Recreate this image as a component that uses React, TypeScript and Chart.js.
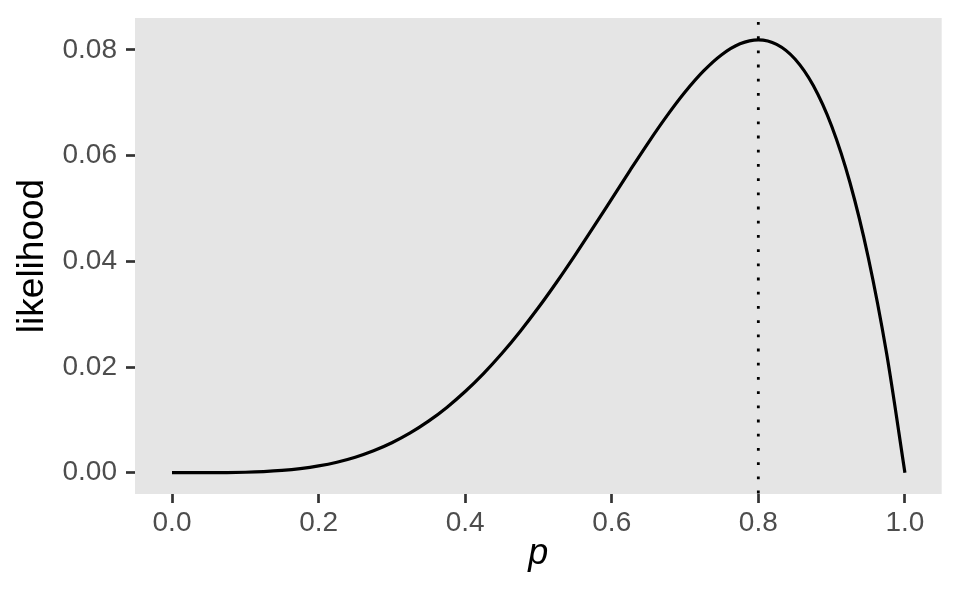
import React, { useEffect, useRef } from "react";
import { Chart, registerables } from "chart.js";

Chart.register(...registerables);

const pValues = [
  0, 0.025, 0.05, 0.075, 0.1, 0.125, 0.15, 0.175, 0.2, 0.225, 0.25, 0.275, 0.3, 0.325, 0.35, 0.375,
  0.4, 0.425, 0.45, 0.475, 0.5, 0.525, 0.55, 0.575, 0.6, 0.625, 0.65, 0.675, 0.7, 0.725, 0.75, 0.775,
  0.8, 0.825, 0.85, 0.875, 0.9, 0.925, 0.95, 0.975, 1.0,
];
const likelihoodValues = [
  0, 0.0000004, 0.0000059, 0.0000293, 0.00009, 0.000214, 0.00043, 0.000774, 0.00128, 0.001986,
  0.00293, 0.004146, 0.00567, 0.007531, 0.009754, 0.01236, 0.01536, 0.01876, 0.02255, 0.02673,
  0.03125, 0.03609, 0.04118, 0.04646, 0.05184, 0.05722, 0.06248, 0.06747, 0.07203, 0.07598, 0.0791,
  0.08117, 0.08192, 0.08107, 0.0783, 0.07327, 0.06561, 0.05491, 0.04073, 0.02259, 0,
];
const mleP = 0.8;
const xTickValues = [0, 0.2, 0.4, 0.6, 0.8, 1.0];
const xTickLabels = ["0.0", "0.2", "0.4", "0.6", "0.8", "1.0"];
const yTickValues = [0, 0.02, 0.04, 0.06, 0.08];
const yTickLabels = ["0.00", "0.02", "0.04", "0.06", "0.08"];
const xLimits = [-0.0505, 1.0502];
const yLimits = [-0.00403, 0.08605];

const FONT = "'Liberation Sans', Arial, Helvetica, sans-serif";

export default function App() {
  const ref = useRef<HTMLCanvasElement | null>(null);

  useEffect(() => {
    if (!ref.current) return;
    const bgPlugin = {
      id: "panelBg",
      beforeDraw(chart: any) {
        const { ctx, chartArea } = chart;
        ctx.save();
        ctx.fillStyle = "#E5E5E5";
        ctx.fillRect(chartArea.left, chartArea.top, chartArea.right - chartArea.left, chartArea.bottom - chartArea.top);
        ctx.restore();
      },
    };
    const chart = new Chart(ref.current, {
      type: "line",
      data: {
        datasets: [
          {
            data: pValues.map((p, i) => ({ x: p, y: likelihoodValues[i] })),
            borderColor: "#000000",
            borderWidth: 3.2,
            pointRadius: 0,
            cubicInterpolationMode: "monotone",
            fill: false,
            order: 1,
          },
          {
            data: [
              { x: mleP, y: yLimits[1] },
              { x: mleP, y: yLimits[0] },
            ],
            borderColor: "#000000",
            borderWidth: 2.8,
            borderDash: [2.8, 11.4],
            borderDashOffset: 10.2,
            borderCapStyle: "butt",
            pointRadius: 0,
            fill: false,
            order: 0,
          },
        ],
      },
      options: {
        animation: false,
        responsive: false,
        maintainAspectRatio: false,
        layout: { padding: { left: 0, top: 18, right: 18.3, bottom: 0 } },
        plugins: { legend: { display: false }, tooltip: { enabled: false } },
        scales: {
          x: {
            type: "linear",
            min: xLimits[0],
            max: xLimits[1],
            afterBuildTicks: (s: any) => {
              s.ticks = xTickValues.map((v) => ({ value: v }));
            },
            afterFit: (s: any) => {
              s.height = 106;
              s.paddingLeft = 0;
              s.paddingRight = 0;
            },
            ticks: {
              autoSkip: false,
              maxRotation: 0,
              padding: 3,
              color: "#4D4D4D",
              font: { family: FONT, size: 28 },
              callback: (v: any) => {
                const i = xTickValues.findIndex((t) => Math.abs(t - v) < 1e-9);
                return i >= 0 ? xTickLabels[i] : "";
              },
            },
            grid: {
              drawOnChartArea: false,
              drawTicks: true,
              tickLength: 9,
              tickColor: "#333333",
              tickWidth: 2.7,
            },
            border: { display: false },
            title: {
              display: true,
              text: "p",
              color: "#000000",
              font: { family: FONT, size: 36, style: "italic" },
              padding: { top: 0, bottom: 24 },
            },
          },
          y: {
            type: "linear",
            min: yLimits[0],
            max: yLimits[1],
            afterBuildTicks: (s: any) => {
              s.ticks = yTickValues.map((v) => ({ value: v }));
            },
            afterFit: (s: any) => {
              s.width = 135;
              s.paddingTop = 0;
              s.paddingBottom = 0;
            },
            ticks: {
              autoSkip: false,
              padding: 9,
              color: "#4D4D4D",
              font: { family: FONT, size: 28 },
              callback: (v: any) => {
                const i = yTickValues.findIndex((t) => Math.abs(t - v) < 1e-9);
                return i >= 0 ? yTickLabels[i] : "";
              },
            },
            grid: {
              drawOnChartArea: false,
              drawTicks: true,
              tickLength: 9,
              tickColor: "#333333",
              tickWidth: 2.7,
            },
            border: { display: false },
            title: {
              display: true,
              text: "likelihood",
              color: "#000000",
              font: { family: FONT, size: 37 },
              padding: { top: 11, bottom: 0 },
            },
          },
        },
      },
      plugins: [bgPlugin],
    } as any);
    return () => chart.destroy();
  }, []);

  return (
    <div style={{ position: "absolute", left: 0, top: 0, width: 960, height: 600, background: "#FFFFFF" }}>
      <canvas ref={ref} width={960} height={600} style={{ display: "block", width: 960, height: 600 }} />
    </div>
  );
}
